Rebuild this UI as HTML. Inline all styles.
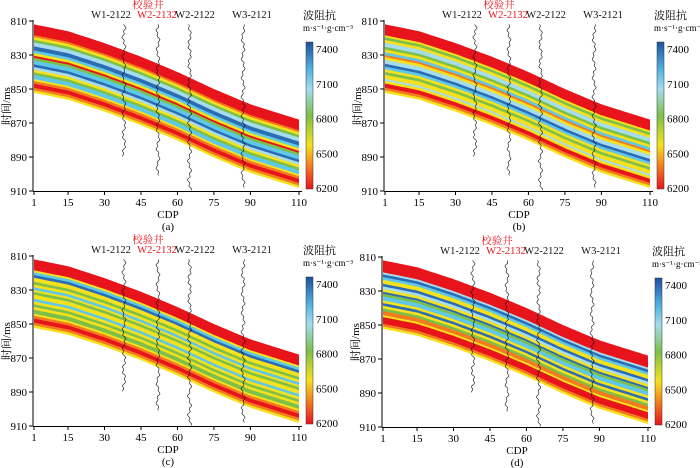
<!DOCTYPE html>
<html><head><meta charset="utf-8"><style>
html,body{margin:0;padding:0;background:#fff;}
svg{display:block;font-family:"Liberation Serif","Noto Serif CJK SC",serif;}
</style></head><body>
<svg id="chart" width="700" height="468" viewBox="0 0 700 468" xmlns="http://www.w3.org/2000/svg">
<defs>
<linearGradient id="cbar" x1="0" y1="1" x2="0" y2="0">
<stop offset="0" stop-color="#e8141c"/><stop offset="0.15" stop-color="#f47a20"/><stop offset="0.3" stop-color="#f5e11d"/>
<stop offset="0.5" stop-color="#7cc04a"/><stop offset="0.68" stop-color="#a5dcee"/><stop offset="0.82" stop-color="#4fb0e0"/><stop offset="1" stop-color="#1e4f9e"/>
</linearGradient>
</defs>
</svg>
<script>
const cdpTicks=[1,15,30,45,60,75,90,110];
const timeTicks=[810,830,850,870,890,910];
const cbarTicks=[7400,7100,6800,6500,6200];
const boundaryCdp=[1,15,30,45,60,75,90,110];
const topTime=[812,816,823,831,840,850,859,868];
const wellCdp=[38,52,65,87];
const wellBottom=[890,901,910,908];
const wellNames=["W1-2122","W2-2132","W2-2122","W3-2121"];
const labelX=[111,157,195,252];
const panelLabels=["(a)","(b)","(c)","(d)"];
const R="#e8141c",O="#f47a20",Y="#f5e11d",G="#7cc04a",C="#5fc8e8",L="#a5dcee",B="#2c6cb5";
const layersA=[[8,R],[1.5,O],[2,Y],[2,G],[3,L],[3,B],[2,C],[2,Y],[1.5,R],[2,G],[3,C],[2,B],[2,L],[2,Y],[2,G],[3,C],[1.5,Y],[2,O],[3,R],[2,O],[1.5,Y]];
const layersB=[[8,R],[1.5,Y],[2,G],[2,Y],[3,L],[2,G],[2,Y],[2,C],[1.5,O],[2,Y],[3,L],[2,B],[2,C],[2,Y],[2,G],[3,Y],[1.5,L],[2,Y],[3,R],[2,O],[1.5,Y]];
const layersC=[[8,R],[1.5,Y],[2,C],[2,B],[3,Y],[2,G],[2,Y],[2,C],[1.5,Y],[2,G],[3,Y],[2,C],[2,Y],[2,G],[2,Y],[3,G],[1.5,Y],[2,O],[3,R],[2,O],[1.5,Y]];
const layersD=[[9,R],[1.5,L],[2,B],[2,C],[3,Y],[2,B],[2,L],[2,Y],[1.5,B],[2,G],[3,C],[2,Y],[2,B],[2,Y],[2,G],[3,O],[1.5,Y],[2,R],[3,R],[2,O],[1.5,Y]];
const panelLayers=[layersA,layersB,layersC,layersD];
const offsets=[[0,0],[351,0],[0,235],[349,236]];
const NS="http://www.w3.org/2000/svg";
const svg=document.getElementById('chart');
function mk(t,a,p){const e=document.createElementNS(NS,t);for(const k in a)e.setAttribute(k,a[k]);p.appendChild(e);return e;}
const xs=c=>34+(c-1)*(265/109);
const ys=t=>21+(t-810)*1.7;
function topAt(c){for(let i=0;i<boundaryCdp.length-1;i++){if(c<=boundaryCdp[i+1]){const f=(c-boundaryCdp[i])/(boundaryCdp[i+1]-boundaryCdp[i]);return topTime[i]+f*(topTime[i+1]-topTime[i]);}}return topTime[topTime.length-1];}
panelLayers.forEach((layers,pi)=>{
  const g=mk('g',{transform:`translate(${offsets[pi][0]},${offsets[pi][1]})`},svg);
  
  
  const tot=layers.reduce((s,l)=>s+l[0],0);
  let acc=0;
  layers.forEach((l,li)=>{
    const d0=acc/tot*40, d1=(acc+l[0])/tot*40+0.3; acc+=l[0];
    let up=[],dn=[];
    for(let c=1;c<=110;c+=1){up.push(xs(c).toFixed(1)+','+ys(topAt(c)+d0).toFixed(1));dn.unshift(xs(c).toFixed(1)+','+ys(topAt(c)+d1).toFixed(1));}
    const p=mk('polygon',{points:up.concat(dn).join(' '),fill:l[1]},g);
    
    
  });
  wellCdp.forEach((wc,wi)=>{
    let pts=[];
    for(let t=812;t<=wellBottom[wi];t+=0.8){const w=Math.sin(t*1.7+wi)*1.0+Math.sin(t*0.55+wi*2)*1.2;pts.push((xs(wc)+w).toFixed(1)+','+ys(t).toFixed(1));}
    const pl=mk('polyline',{points:pts.join(' '),fill:'none',stroke:'#111','stroke-width':0.6},g);
    
    
    const tx=mk('text',{x:labelX[wi],y:18,'font-size':10.5,'text-anchor':'middle',fill:wi==1?'#e8141c':'#111'},g);
    tx.textContent=wellNames[wi];
    
    
  });
  const jy=mk('text',{x:148,y:8,'font-size':10.5,'text-anchor':'middle',fill:'#e8141c'},g);
  jy.textContent='校验井';
  
  
  mk('line',{x1:33,y1:20,x2:33,y2:191.5,stroke:'#000','stroke-width':1},g);
  mk('line',{x1:33,y1:191.5,x2:302,y2:191.5,stroke:'#000','stroke-width':1},g);
  timeTicks.forEach(t=>{mk('line',{x1:29,y1:ys(t),x2:33,y2:ys(t),stroke:'#000'},g);
    const tt=mk('text',{x:27,y:ys(t)+4,'font-size':11,'text-anchor':'end'},g);tt.textContent=t;
    });
  cdpTicks.forEach(c=>{mk('line',{x1:xs(c),y1:191.5,x2:xs(c),y2:195,stroke:'#000'},g);
    const tt=mk('text',{x:xs(c),y:206,'font-size':11,'text-anchor':'middle'},g);tt.textContent=c;
    });
  const xl=mk('text',{x:168,y:218,'font-size':11,'text-anchor':'middle'},g);xl.textContent='CDP';
  
  const pl2=mk('text',{x:168,y:230,'font-size':11,'text-anchor':'middle'},g);pl2.textContent=panelLabels[pi];
  
  const yl=mk('text',{x:0,y:0,'font-size':11,'text-anchor':'middle',transform:'translate(10,106) rotate(-90)'},g);yl.textContent='时间/ms';
  
  const cb=mk('rect',{x:306,y:42,width:7,height:147,fill:'url(#cbar)',stroke:'#333','stroke-width':0.5},g);
  
  cbarTicks.forEach((v,i)=>{const cy=49+(7400-v)/300*34.8;
    const tt=mk('text',{x:316,y:cy+4,'font-size':11},g);tt.textContent=v;
    });
  const ct=mk('text',{x:303,y:19,'font-size':11},g);ct.textContent='波阻抗';
  
  const cu=mk('text',{x:303,y:31,'font-size':9},g);cu.textContent='m·s⁻¹·g·cm⁻³';
  
});
</script>
</body></html>
